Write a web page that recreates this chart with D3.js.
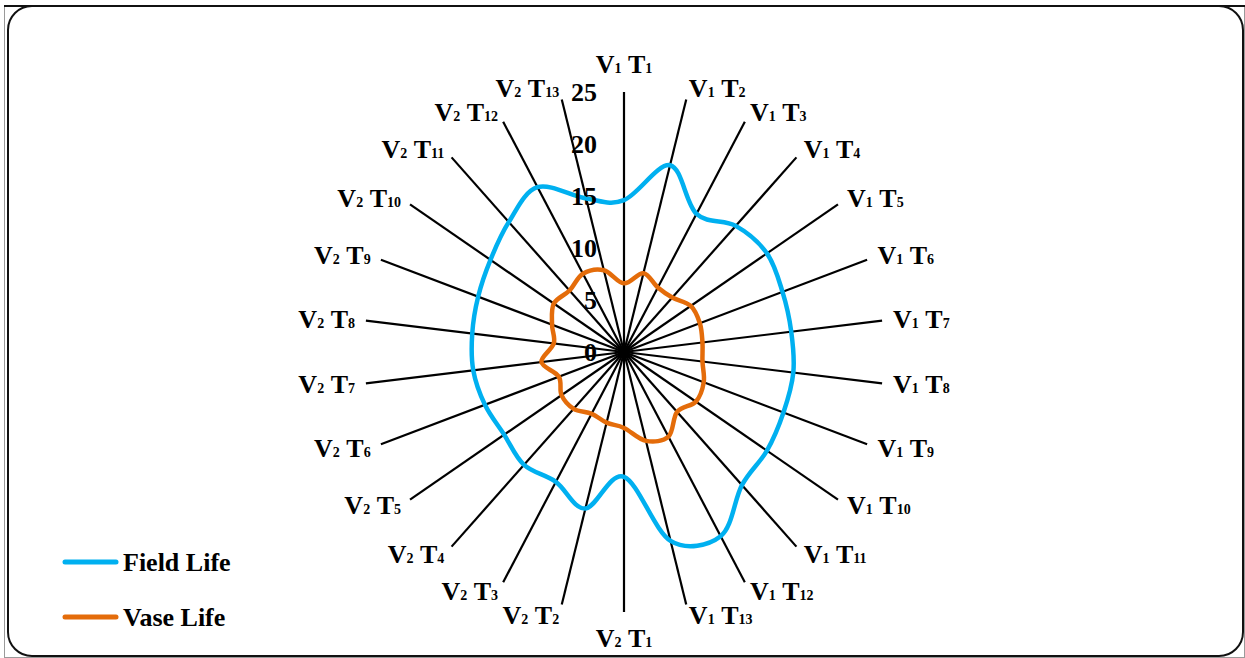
<!DOCTYPE html>
<html>
<head>
<meta charset="utf-8">
<script src="https://cdn.jsdelivr.net/npm/d3@7"></script>
<style>
  body { margin: 0; background: #fff; }
  svg { display: block; }
  text { font-family: "Liberation Serif", "Times New Roman", serif; font-weight: bold; fill: #000; }
</style>
</head>
<body>
<svg id="chart" width="1245" height="658"></svg>
<script>
// Variety / treatment combinations, clockwise from the top
const categories = [
  "V1T1", "V1T2", "V1T3", "V1T4", "V1T5", "V1T6", "V1T7", "V1T8", "V1T9", "V1T10", "V1T11", "V1T12", "V1T13",
  "V2T1", "V2T2", "V2T3", "V2T4", "V2T5", "V2T6", "V2T7", "V2T8", "V2T9", "V2T10", "V2T11", "V2T12", "V2T13"
];
const fieldLife = [14.6, 18.5, 15.0, 16.2, 16.7, 16.3, 16.2, 16.4, 16.4, 16.7, 17.1, 20.0, 18.7,
                   12.0, 15.5, 14.1, 14.5, 14.0, 14.3, 14.6, 14.7, 15.0, 15.6, 16.7, 17.9, 15.2];
const vaseLife  = [6.6, 7.8, 7.0, 7.0, 7.8, 7.8, 7.6, 7.6, 8.2, 8.4, 7.7, 9.2, 8.8,
                   7.3, 7.0, 6.7, 7.3, 7.3, 6.7, 8.0, 6.8, 7.4, 8.2, 7.9, 8.5, 8.1];
const seriesNames = ["Field Life", "Vase Life"];
const seriesColors = ["#00B0F0", "#E46C0A"];
const tickValues = [0, 5, 10, 15, 20, 25];

const svg = d3.select("#chart");
const W = 1245, H = 658;
const cx = 624, cy = 352, R = 260;

// Outer border and rounded chart area
svg.append("rect").attr("x", 4.5).attr("y", 5.5).attr("width", W - 5).attr("height", H - 6)
  .attr("fill", "none").attr("stroke", "#9a9a9a").attr("stroke-width", 1);
svg.append("line").attr("x1", 4).attr("x2", W).attr("y1", 6).attr("y2", 6)
  .attr("stroke", "#111").attr("stroke-width", 2);
svg.append("rect").attr("x", 8).attr("y", 6).attr("width", 1235).attr("height", 650).attr("rx", 24)
  .attr("fill", "#fff").attr("stroke", "#111").attr("stroke-width", 2);

const r = d3.scaleLinear().domain([0, 25]).range([0, R]);
const angle = d3.scaleLinear().domain([0, categories.length]).range([0, 2 * Math.PI]);

const g = svg.append("g").attr("transform", `translate(${cx},${cy})`);

// Spokes
g.selectAll("line.spoke").data(categories).join("line")
  .attr("class", "spoke")
  .attr("x1", 0).attr("y1", 0)
  .attr("x2", (d, i) => r(25) * Math.sin(angle(i)))
  .attr("y2", (d, i) => -r(25) * Math.cos(angle(i)))
  .attr("stroke", "#000").attr("stroke-width", 2.2);

// Series (smoothed closed lines)
const line = d3.lineRadial()
  .angle((d, i) => angle(i))
  .radius(d => r(d))
  .curve(d3.curveCardinalClosed.tension(0));

[fieldLife, vaseLife].forEach((vals, k) => {
  g.append("path").datum(vals)
    .attr("d", line)
    .attr("fill", "none")
    .attr("stroke", seriesColors[k])
    .attr("stroke-width", 4.5)
    .attr("stroke-linejoin", "round");
});

// Radial tick labels
g.selectAll("text.tick").data(tickValues).join("text")
  .attr("class", "tick")
  .attr("x", -27)
  .attr("y", d => -r(d) + 8.5)
  .attr("text-anchor", "end")
  .attr("font-size", 26)
  .text(d => d);

// Category labels with subscripted numbers
const labelR = 271;
categories.forEach((c, i) => {
  const m = c.match(/V(\d+)T(\d+)/);
  const a = angle(i);
  const s = Math.sin(a), co = Math.cos(a);
  let x = labelR * s, yc = -labelR * co, anchor;
  if (Math.abs(s) < 0.05) {
    anchor = "middle";
    yc += co > 0 ? -17 : 15;
  } else {
    anchor = s > 0 ? "start" : "end";
  }
  const t = g.append("text")
    .attr("x", x).attr("y", yc + 8.5)
    .attr("text-anchor", anchor)
    .attr("font-size", 26);
  t.append("tspan").text("V");
  t.append("tspan").attr("font-size", 14).text(m[1]);
  t.append("tspan").text("\u00a0T");
  t.append("tspan").attr("font-size", 14).text(m[2]);
});

// Legend
const legend = svg.append("g");
seriesNames.forEach((name, k) => {
  const y = 562 + k * 55;
  legend.append("line")
    .attr("x1", 65).attr("x2", 116).attr("y1", y).attr("y2", y)
    .attr("stroke", seriesColors[k]).attr("stroke-width", 5).attr("stroke-linecap", "round");
  legend.append("text")
    .attr("x", 123).attr("y", y + 8.5)
    .attr("font-size", 26)
    .text(name);
});
</script>
</body>
</html>
